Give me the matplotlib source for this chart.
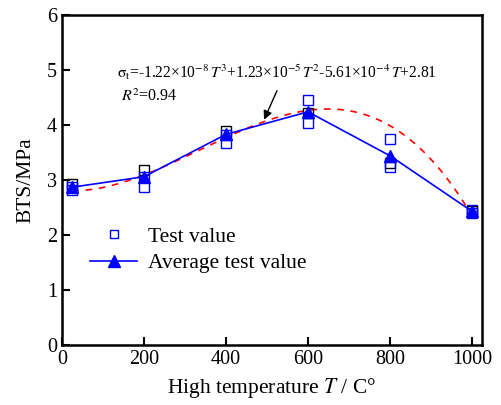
import numpy as np
import matplotlib
matplotlib.use("Agg")
import matplotlib.pyplot as plt

plt.rcParams['font.family'] = ['Liberation Serif', 'DejaVu Serif']
plt.rcParams['mathtext.fontset'] = 'stix'

# data
temps = [25, 200, 400, 600, 800, 1000]
test_vals = [
    [2.92, 2.87, 2.81],
    [3.19, 3.06, 2.87],
    [3.89, 3.82, 3.68],
    [4.46, 4.22, 4.04],
    [3.75, 3.31, 3.24],
    [2.46, 2.43, 2.40],
]
# one sample per temperature is drawn black in the original
test_colors = [
    ['black', 'blue', 'blue'],
    ['black', 'blue', 'blue'],
    ['black', 'blue', 'blue'],
    ['blue', 'black', 'blue'],
    ['blue', 'black', 'blue'],
    ['blue', 'black', 'blue'],
]
avg_vals = [2.87, 3.06, 3.83, 4.24, 3.44, 2.43]

# fitted cubic from the annotation
coef = [-1.22e-8, 1.23e-5, -5.61e-4, 2.81]
t_fit = np.linspace(25, 1000, 200)
s_fit = np.polyval(coef, t_fit)

fig = plt.figure(figsize=(5.02, 4.05), dpi=100)
ax = fig.add_axes([0.1235, 0.148, 0.8365, 0.815])

ax.plot(t_fit, s_fit, color='red', ls=(0, (4, 4)), lw=1.2, zorder=2)

for t, vals, cols in zip(temps, test_vals, test_colors):
    for v, c in zip(vals, cols):
        ax.plot(t, v, ls='none', marker='s', ms=6.5, mfc='none', mec=c, mew=1.0, zorder=3)

ax.plot(temps, avg_vals, color='blue', lw=1.2, marker='^', ms=8.5, mfc='blue', mec='blue', zorder=4)

# legend proxies
h1, = ax.plot([], [], ls='none', marker='s', ms=6, mfc='none', mec='blue', mew=1.0)
h2, = ax.plot([], [], color='blue', lw=1.2, marker='^', ms=8.5)
ax.legend([h1, h2], ['Test value', 'Average test value'], loc='upper left',
          bbox_to_anchor=(0.067, 0.358), frameon=False, fontsize=15.5,
          handlelength=2.2, borderpad=0, borderaxespad=0, labelspacing=0.3,
          handletextpad=0.5)

ax.text(134, 4.96,
        r'$\mathrm{\sigma_t}$=-1.22×10$^{-8}$$\,T^3$+1.23×10$^{-5}$$\,T^2$-5.61×10$^{-4}$$\,T$+2.81',
        fontsize=11.2, va='center', ha='left')
ax.text(144, 4.51, r'$R^2$=0.94', fontsize=11.5, va='center', ha='left')
ax.annotate('', xy=(490, 4.05), xytext=(527, 4.67),
            arrowprops=dict(arrowstyle='-|>', color='black', lw=1.0, mutation_scale=13))

ax.set_xlim(0, 1024)
ax.set_ylim(0, 6)
ax.set_xticks([0, 200, 400, 600, 800, 1000])
ax.set_yticks([0, 1, 2, 3, 4, 5, 6])
ax.tick_params(direction='in', length=6, width=1.5, labelsize=14.5, top=False, right=False)
for s in ax.spines.values():
    s.set_linewidth(1.8)

ax.set_xlabel(r'High temperature $T$ / C°', fontsize=15.5, labelpad=5)
ax.set_ylabel('BTS/MPa', fontsize=15.5, labelpad=8)

fig.savefig('out.png', dpi=100)
